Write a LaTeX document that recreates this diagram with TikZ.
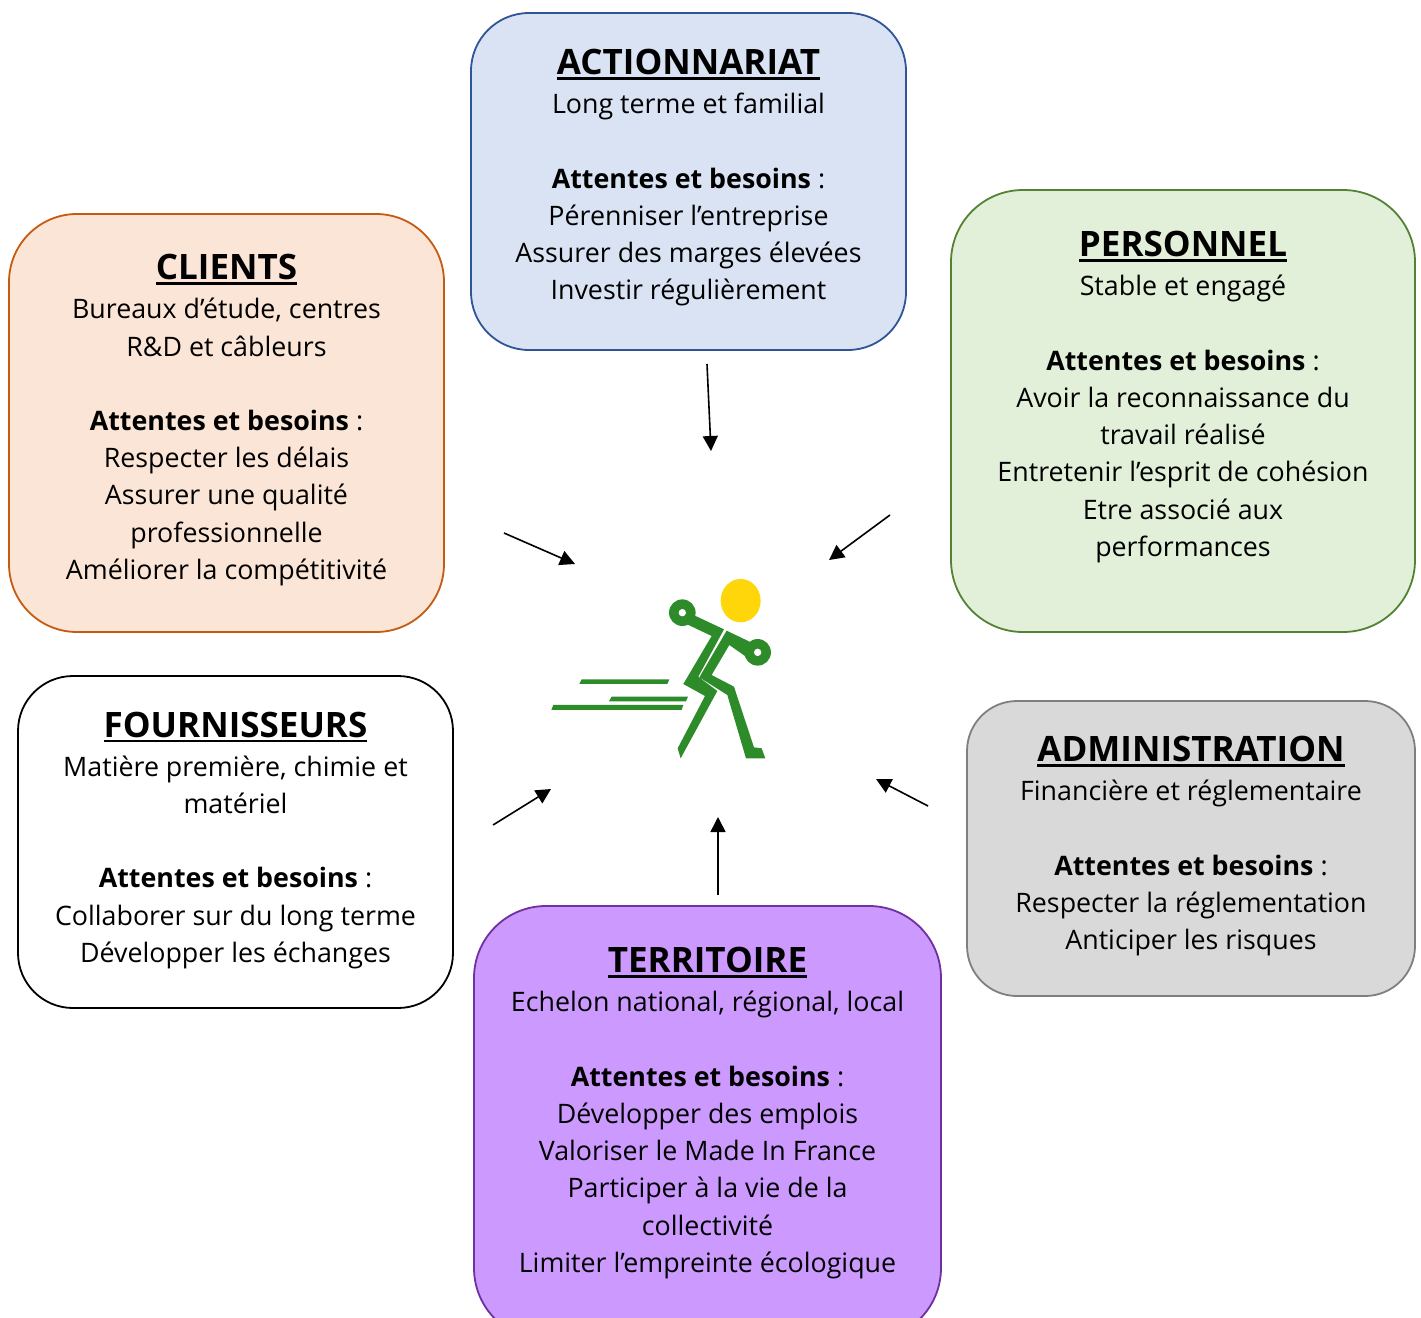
\documentclass[tikz,border=0pt]{standalone}
\usepackage{fontspec}
\setmainfont{Open Sans}
\usetikzlibrary{arrows.meta, positioning}

\newcommand{\boxtitle}[1]{{\fontsize{35}{37}\selectfont\bfseries\setbox0=\hbox{#1}\rlap{\rule[-5pt]{\wd0}{2.6pt}}\box0}\\[2pt]}
\newcommand{\needs}{\textbf{Attentes et besoins} :\\}

\begin{document}
\begin{tikzpicture}[x=1pt,y=-1pt]

\tikzset{stake/.style = {shape=rectangle,draw,line width=1.8pt,rounded corners=#1}}
\tikzset{stake/.default = 60pt}
\tikzset{stakesize/.style n args = {2}{minimum width=#1pt,minimum height=#2pt,inner sep=0pt}}
\tikzset{stakeText/.style = {align=center,inner sep=0pt,anchor=north,font=\fontsize{26.8}{37.2}\selectfont}}
\tikzset{edge/.style = {-{Triangle[length=15pt,width=15pt]},line width=1.6pt}}
\tikzset{runner/.style = {fill=runnerGreen,draw=none}}

\definecolor{actionFill}{HTML}{DAE3F3}
\definecolor{actionLine}{HTML}{2F5597}
\definecolor{staffFill}{HTML}{E2F0D9}
\definecolor{staffLine}{HTML}{548235}
\definecolor{clientFill}{HTML}{FBE5D6}
\definecolor{clientLine}{HTML}{C55A11}
\definecolor{adminFill}{HTML}{D9D9D9}
\definecolor{adminLine}{HTML}{7F7F7F}
\definecolor{terrFill}{HTML}{CC99FF}
\definecolor{terrLine}{HTML}{7030A0}
\definecolor{runnerGreen}{HTML}{2E8B2A}
\definecolor{headYellow}{HTML}{FFD60A}

\useasboundingbox (0,0) rectangle (1421,1317);

%boxes
\node[stake=58pt, stakesize={435}{337}, fill=actionFill, draw=actionLine] (action) at (688.5,181.5) {};
\node[stake=72pt, stakesize={464}{442}, fill=staffFill, draw=staffLine] (staff) at (1183,411) {};
\node[stake=68pt, stakesize={435}{418}, fill=clientFill, draw=clientLine] (client) at (226.5,423) {};
\node[stake=55pt, stakesize={435}{332}, fill=white, draw=black] (supplier) at (235.5,842) {};
\node[stake=50pt, stakesize={448}{295}, fill=adminFill, draw=adminLine] (admin) at (1191,848.5) {};
\node[stake=72pt, stakesize={467}{434}, fill=terrFill, draw=terrLine] (terr) at (707.5,1123) {};

%texts
\node[stakeText, below=37pt of action.north] (actionText) {\boxtitle{ACTIONNARIAT}
  Long terme et familial\\ \\ \needs
  Pérenniser l’entreprise\\ Assurer des marges élevées\\ Investir régulièrement};
\node[stakeText, below=42pt of staff.north] (staffText) {\boxtitle{PERSONNEL}
  Stable et engagé\\ \\ \needs
  Avoir la reconnaissance du\\ travail réalisé\\ Entretenir l’esprit de cohésion\\ Etre associé aux\\ performances};
\node[stakeText, below=41pt of client.north] (clientText) {\boxtitle{CLIENTS}
  Bureaux d’étude, centres\\ R\&D et câbleurs\\ \\ \needs
  Respecter les délais\\ Assurer une qualité\\ professionnelle\\ Améliorer la compétitivité};
\node[stakeText, below=36.5pt of supplier.north] (supplierText) {\boxtitle{FOURNISSEURS}
  Matière première, chimie et\\ matériel\\ \\ \needs
  Collaborer sur du long terme\\ Développer les échanges};
\node[stakeText, below=36pt of admin.north] (adminText) {\boxtitle{ADMINISTRATION}
  Financière et réglementaire\\ \\ \needs
  Respecter la réglementation\\ Anticiper les risques};
\node[stakeText, below=42pt of terr.north] (terrText) {\boxtitle{TERRITOIRE}
  Echelon national, régional, local\\ \\ \needs
  Développer des emplois\\ Valoriser le Made In France\\ Participer à la vie de la\\ collectivité\\ Limiter l’empreinte écologique};

%arrows
\coordinate (actionOut) at (707,364);
\coordinate (actionIn) at (711,451);
\coordinate (staffOut) at (890,515);
\coordinate (staffIn) at (829,560);
\coordinate (clientOut) at (504,533);
\coordinate (clientIn) at (575,564);
\coordinate (supplierOut) at (493,825);
\coordinate (supplierIn) at (551,789);
\coordinate (terrOut) at (718,895);
\coordinate (terrIn) at (718,817);
\coordinate (adminOut) at (928,806);
\coordinate (adminIn) at (876,779);
\draw[edge] (actionOut) -- (actionIn);
\draw[edge] (staffOut) -- (staffIn);
\draw[edge] (clientOut) -- (clientIn);
\draw[edge] (supplierOut) -- (supplierIn);
\draw[edge] (terrOut) -- (terrIn);
\draw[edge] (adminOut) -- (adminIn);

%runner
\begin{scope}[shift={(530,560)},x=0.3333pt,y=-0.3333pt]
\fill[headYellow] (632,122) ellipse [x radius=20pt, y radius=21.7pt];
\fill[runner] (480,160) -- (582,208) -- (505,350) -- (562,393) -- (452,595) -- (443,565) -- (525,408) -- (460,372) -- (545,228) -- (465,190) -- cycle;
\fill[runner] (590,212) -- (690,260) -- (655,295) -- (598,255) -- (545,345) -- (612,380) -- (672,562) -- (695,565) -- (706,595) -- (648,595) -- (592,405) -- (508,352) -- cycle;
\fill[runner] (155,358) -- (418,358) -- (412,372) -- (148,372) -- cycle;
\fill[runner] (245,410) -- (474,410) -- (468,424) -- (237,424) -- cycle;
\fill[runner] (70,435) -- (460,435) -- (455,450) -- (64,450) -- cycle;
\fill[runner] (457,158) circle [radius=13.3pt];
\fill[runner] (683,277) circle [radius=13.3pt];
\fill[white] (457,158) circle [radius=3.7pt];
\fill[white] (683,277) circle [radius=3.7pt];
\end{scope}

\end{tikzpicture}
\end{document}
